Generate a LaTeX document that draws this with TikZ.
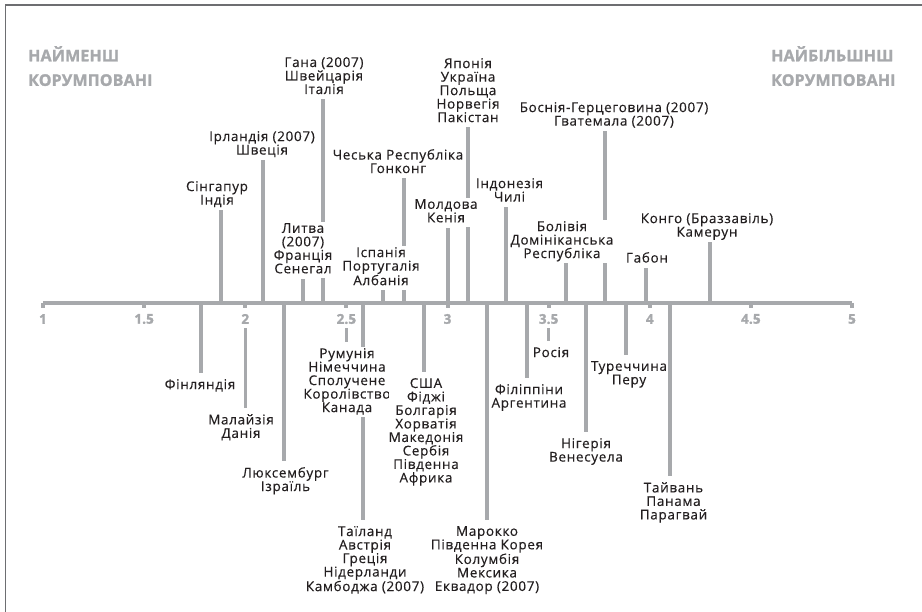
\documentclass[tikz,border=0pt]{standalone}
\usepackage{fontspec}
\setmainfont{Open Sans}[LetterSpace=5, FakeBold=0.3]
\newfontfamily\headfont{Open Sans}[LetterSpace=1, BoldFeatures={FakeBold=1.6}]
\definecolor{ax}{HTML}{A7A9AC}
\definecolor{ink}{HTML}{231F20}
\definecolor{frm}{HTML}{6D6E71}
\pgfdeclarelayer{bg}
\pgfsetlayers{bg,main}
\begin{document}
\begin{tikzpicture}[x=1pt,y=-1pt,
  lbl/.style={align=center, font=\fontsize{13.5}{13.5}\selectfont, text=ink, fill=white,
    inner xsep=0pt, inner ysep=1pt, anchor=north, execute at begin node=\strut, execute at end node=\strut},
  stem/.style={draw=ax, line width=3.5pt},
  axisline/.style={draw=ax, line width=4pt},
  tickmark/.style={draw=ax, line width=4pt},
  ticklbl/.style={font=\headfont\bfseries\fontsize{13.5}{13.5}\selectfont, text=ax, inner sep=1pt},
  head/.style={font=\headfont\bfseries\fontsize{16}{24.5}\selectfont, text=ax, align=left,
    anchor=north west, inner sep=0pt, execute at begin node=\strut},
  frame/.style={draw=frm, line width=1.6pt}]
\useasboundingbox (0,0) rectangle (922,612);
\coordinate (fa) at (922,5);
\coordinate (fb) at (5.5,5);
\coordinate (fc) at (5.5,612);
\draw[frame] (fa) -- (fb) -- (fc);

% headings
\node[head] (hl) at (28,46) {НАЙМЕНШ\\КОРУМПОВАНІ};
\node[head] (hr) at (771,46) {НАЙБІЛЬШНШ\\КОРУМПОВАНІ};

% axis
\coordinate (L) at (43,303);
\coordinate (R) at (852,303);
\draw[axisline] (L) -- (R);
\foreach \v [count=\i] in {1,1.5,2,2.5,3,3.5,4,4.5,5} {
  \coordinate (k\i) at ({43+(\v-1)*202.25},303);
  \draw[tickmark] (k\i) -- ++(0,5);
  \node[ticklbl] (l\i) at ({43+(\v-1)*202.25},319) {\v};
}

% labels above the axis
\node[lbl] (t1) at (217,180) {Сінгапур\\Індія};
\node[lbl] (t2) at (262,130) {Ірландія (2007)\\Швеція};
\node[lbl] (t3) at (303,222) {Литва\\(2007)\\Франція\\Сенегал};
\node[lbl] (t4) at (324,56) {Гана (2007)\\Швейцарія\\Італія};
\node[lbl] (t5) at (381,246) {Іспанія\\Португалія\\Албанія};
\node[lbl] (t6) at (398,148) {Чеська Республіка\\Гонконг};
\node[lbl] (t8) at (468,57) {Японія\\Україна\\Польща\\Норвегія\\Пакістан};
\node[lbl] (t9) at (509.5,177) {Індонезія\\Чилі};
\node[lbl] (t7) at (446,198) {Молдова\\Кенія};
\node[lbl] (t10) at (562,220) {Болівія\\Домініканська\\Республіка};
\node[lbl] (t11) at (614,101) {Боснія-Герцеговина (2007)\\Гватемала (2007)};
\node[lbl] (t12) at (647,251) {Габон};
\node[lbl] (t13) at (707,212) {Конго (Браззавіль)\\Камерун};

% labels below the axis
\node[lbl] (t14) at (200,378) {Фінляндія};
\node[lbl] (t15) at (241,413) {Малайзія\\Данія};
\node[lbl] (t16) at (285.5,466) {Люксембург\\Ізраїль};
\node[lbl] (t17) at (347,347) {Румунія\\Німеччина\\Сполучене\\Королівство\\Канада};
\node[lbl] (t18) at (365,525) {Таїланд\\Австрія\\Греція\\Нідерланди\\Камбоджа (2007)};
\node[lbl] (t19) at (426,377) {США\\Фіджі\\Болгарія\\Хорватія\\Македонія\\Сербія\\Південна\\Африка};
\node[lbl] (t20) at (487,525) {Марокко\\Південна Корея\\Колумбія\\Мексика\\Еквадор (2007)};
\node[lbl] (t21) at (529,383) {Філіппіни\\Аргентина};
\node[lbl] (t22) at (551,346) {Росія};
\node[lbl] (t23) at (586,437) {Нігерія\\Венесуела};
\node[lbl] (t24) at (629,360) {Туреччина\\Перу};
\node[lbl] (t25) at (673.5,481) {Тайвань\\Панама\\Парагвай};

% stem anchor points on the axis
\foreach \n/\x in {1/221,2/263,3/303,4/323,5/383,6/404,7/448,8/468,9/506,10/566,11/605,12/646,13/710,
                   14/201,16/284,18/363,19/424,20/487,21/527,23/586,24/626,25/670}
  \coordinate (a\n) at (\x,303);

\begin{pgfonlayer}{bg}
\foreach \n in {1,...,13}
  \draw[stem] (a\n) -- (a\n |- t\n.south);
\foreach \n in {14,16,18,19,20,21,23,24,25}
  \draw[stem, shorten >=5pt] (a\n) -- (a\n |- t\n.north);
\draw[stem, shorten <=3pt, shorten >=5pt] (l3.south) -- (l3.south |- t15.north);
\draw[stem, shorten <=3pt, shorten >=5pt] (l4.south) -- (l4.south |- t17.north);
\draw[stem, shorten <=3pt, shorten >=5pt] (l6.south) -- (l6.south |- t22.north);
\end{pgfonlayer}
\end{tikzpicture}
\end{document}
